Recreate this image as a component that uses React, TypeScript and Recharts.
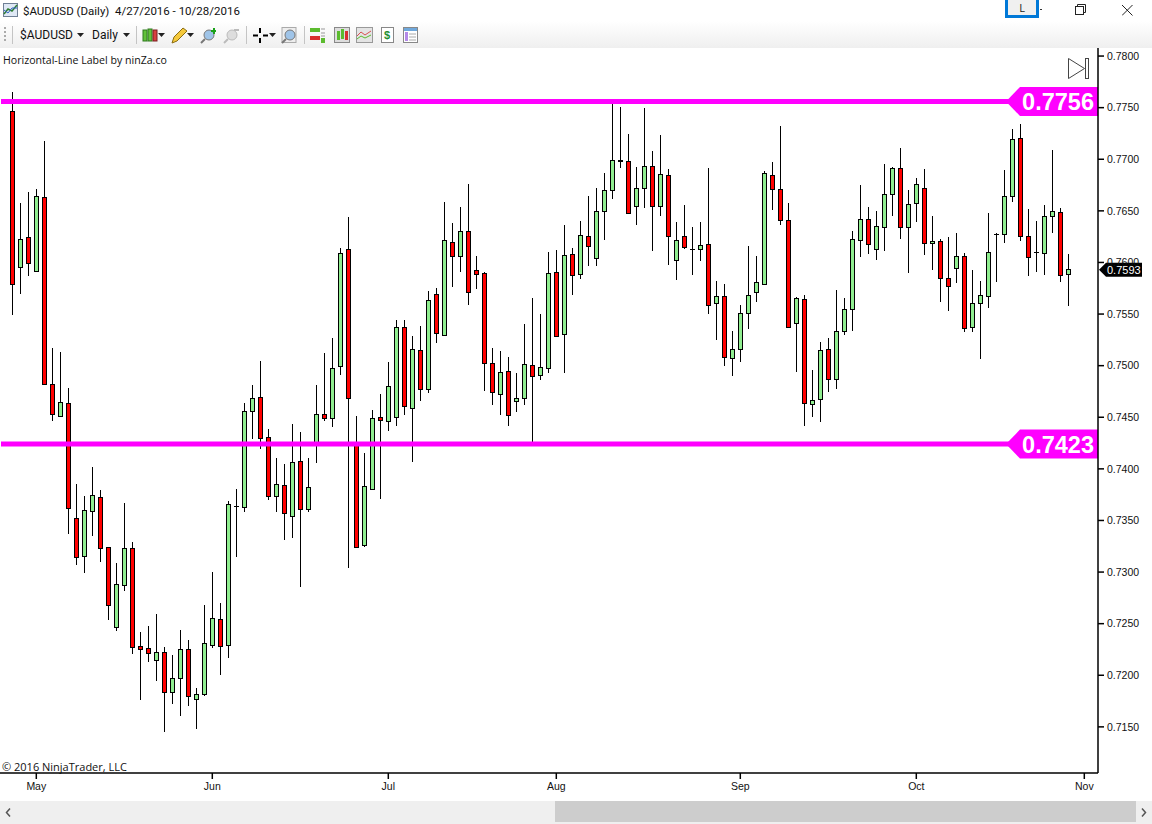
import { ComposedChart, Bar, XAxis, YAxis, ReferenceLine } from 'recharts';

// daily AUDUSD candles, 4/27/2016 - 10/28/2016
const opens = [
  0.77464, 0.75953, 0.76243, 0.75914, 0.76631, 0.74819, 0.74515, 0.74635, 0.7352, 0.73152,
  0.73588, 0.73724, 0.73239, 0.72464, 0.72871, 0.7323, 0.7228, 0.7226, 0.72144, 0.72222,
  0.71834, 0.7197, 0.72251, 0.71766, 0.71815, 0.7229, 0.72542, 0.7229, 0.73637, 0.73627,
  0.74557, 0.74693, 0.74305, 0.73734, 0.7384, 0.73546, 0.74073, 0.73614, 0.7424, 0.74528,
  0.74489, 0.74993, 0.76127, 0.7425, 0.73265, 0.73808, 0.74499, 0.74467, 0.74499, 0.75371,
  0.74586, 0.75148, 0.7477, 0.75691, 0.75294, 0.76195, 0.76059, 0.76301, 0.75924, 0.75895,
  0.75022, 0.74722, 0.74945, 0.74654, 0.74683, 0.75003, 0.74906, 0.74974, 0.75904, 0.75303,
  0.76079, 0.75885, 0.76253, 0.7604, 0.76495, 0.76699, 0.76983, 0.7698, 0.76544, 0.76718,
  0.76931, 0.76544, 0.76844, 0.7602, 0.76253, 0.7613, 0.76127, 0.76175, 0.75604, 0.75672,
  0.75071, 0.75158, 0.75507, 0.7571, 0.75788, 0.76844, 0.76708, 0.76408, 0.7541, 0.75643,
  0.74625, 0.74673, 0.75158, 0.74867, 0.75332, 0.75546, 0.76214, 0.76418, 0.76127, 0.7634,
  0.7666, 0.76912, 0.7634, 0.76573, 0.76718, 0.76185, 0.76205, 0.75846, 0.75943, 0.76059,
  0.75371, 0.75604, 0.75672, 0.76272, 0.76272, 0.76641, 0.77203, 0.76253, 0.76098, 0.76088,
  0.76447, 0.76492, 0.75885,
];
const highs = [
  0.7765, 0.76573, 0.76679, 0.76708, 0.77177, 0.75168, 0.75129, 0.7478, 0.73853, 0.73737,
  0.74015, 0.73795, 0.7324, 0.73084, 0.73666, 0.73288, 0.72416, 0.72474, 0.7259, 0.7227,
  0.72193, 0.72435, 0.72338, 0.71873, 0.72677, 0.72997, 0.72697, 0.73685, 0.73801, 0.74635,
  0.74809, 0.75042, 0.74383, 0.74102, 0.74044, 0.74434, 0.74354, 0.74102, 0.74809, 0.75119,
  0.75265, 0.76137, 0.76437, 0.7451, 0.7415, 0.74567, 0.74722, 0.75032, 0.75439, 0.75439,
  0.75284, 0.7538, 0.7572, 0.75749, 0.76582, 0.76379, 0.76534, 0.76757, 0.76059, 0.75904,
  0.75168, 0.75139, 0.7508, 0.74925, 0.754, 0.75652, 0.75497, 0.76098, 0.76117, 0.7636,
  0.76137, 0.76398, 0.76641, 0.76718, 0.76863, 0.7756, 0.77503, 0.77241, 0.76922, 0.77493,
  0.77077, 0.77232, 0.76902, 0.76389, 0.76553, 0.7634, 0.76389, 0.76912, 0.75817, 0.75788,
  0.75332, 0.75584, 0.76156, 0.76059, 0.76883, 0.7697, 0.77319, 0.76573, 0.75662, 0.75681,
  0.74955, 0.75226, 0.75265, 0.7573, 0.75652, 0.76301, 0.76747, 0.76534, 0.76495, 0.76951,
  0.76922, 0.77106, 0.76699, 0.76815, 0.76902, 0.76447, 0.76224, 0.76243, 0.76282, 0.76088,
  0.75924, 0.75817, 0.76476, 0.76282, 0.76893, 0.7729, 0.77338, 0.76515, 0.76398, 0.76553,
  0.77086, 0.76524, 0.76079,
];
const lows = [
  0.75494, 0.75697, 0.75872, 0.75914, 0.74812, 0.74467, 0.74506, 0.73369, 0.73071, 0.72994,
  0.73352, 0.731, 0.72538, 0.72432, 0.72819, 0.72209, 0.71763, 0.72131, 0.71947, 0.71453,
  0.71725, 0.71608, 0.71705, 0.71482, 0.71802, 0.72267, 0.72005, 0.7217, 0.73149, 0.73585,
  0.74292, 0.74195, 0.73701, 0.73585, 0.73314, 0.73333, 0.72858, 0.73585, 0.7406, 0.74467,
  0.74405, 0.74909, 0.73042, 0.73236, 0.73246, 0.73808, 0.73711, 0.7437, 0.74418, 0.74525,
  0.74069, 0.7466, 0.74738, 0.75223, 0.75294, 0.75765, 0.75911, 0.75591, 0.75746, 0.74758,
  0.74622, 0.74525, 0.74418, 0.74554, 0.74622, 0.7425, 0.74864, 0.74932, 0.7528, 0.74932,
  0.75688, 0.75843, 0.75969, 0.75969, 0.76221, 0.76618, 0.76912, 0.76466, 0.76366, 0.76531,
  0.76114, 0.76453, 0.75978, 0.75833, 0.76133, 0.75882, 0.76017, 0.75504, 0.75252, 0.75,
  0.74903, 0.75039, 0.75358, 0.7562, 0.75788, 0.76508, 0.7636, 0.7537, 0.74942, 0.74418,
  0.74506, 0.74457, 0.74748, 0.74777, 0.753, 0.75339, 0.76056, 0.76085, 0.76027, 0.76114,
  0.76453, 0.76231, 0.75901, 0.76395, 0.76075, 0.7593, 0.7562, 0.75533, 0.75804, 0.75329,
  0.75329, 0.75068, 0.75562, 0.75807, 0.76192, 0.76589, 0.76211, 0.75872, 0.75911, 0.75882,
  0.76289, 0.75814, 0.75581,
];
const closes = [
  0.75788, 0.7623, 0.75991, 0.76641, 0.74825, 0.74528, 0.74644, 0.73617, 0.73142, 0.73598,
  0.73743, 0.7323, 0.72677, 0.72881, 0.7323, 0.7227, 0.72257, 0.72212, 0.72222, 0.71834,
  0.7197, 0.72251, 0.71796, 0.71815, 0.72309, 0.72551, 0.7228, 0.73656, 0.73637, 0.74557,
  0.74683, 0.74296, 0.73734, 0.7385, 0.73569, 0.74063, 0.73614, 0.73821, 0.74528, 0.74489,
  0.74974, 0.76088, 0.74683, 0.73246, 0.7383, 0.7449, 0.74476, 0.748, 0.75371, 0.74606,
  0.75158, 0.7477, 0.75633, 0.75313, 0.76214, 0.76059, 0.76301, 0.7571, 0.75891, 0.75022,
  0.74741, 0.74935, 0.74519, 0.74683, 0.75013, 0.74896, 0.74984, 0.75895, 0.75284, 0.76069,
  0.75875, 0.76263, 0.76156, 0.76495, 0.76699, 0.76989, 0.76993, 0.76476, 0.76718, 0.76931,
  0.76544, 0.76854, 0.76253, 0.76214, 0.76146, 0.7613, 0.76166, 0.75584, 0.75672, 0.7508,
  0.75158, 0.75507, 0.75681, 0.75807, 0.76864, 0.76708, 0.76408, 0.75371, 0.75652, 0.74635,
  0.74664, 0.75148, 0.74867, 0.75332, 0.75546, 0.76224, 0.76418, 0.76175, 0.7635, 0.7666,
  0.76912, 0.7634, 0.76563, 0.76757, 0.76185, 0.76205, 0.75846, 0.75769, 0.76059, 0.75361,
  0.75604, 0.75681, 0.76098, 0.76272, 0.76641, 0.77193, 0.76253, 0.7605, 0.76098, 0.76447,
  0.76495, 0.75875, 0.75933,
];

const monthTicks = [3, 25, 47, 68, 91, 113, 134];
const monthLabels = ['May', 'Jun', 'Jul', 'Aug', 'Sep', 'Oct', 'Nov'];
const priceTicks = [
  0.715, 0.72, 0.725, 0.73, 0.735, 0.74, 0.745, 0.75, 0.755, 0.76, 0.765, 0.77, 0.775, 0.78,
];
const upperLevel = 0.7756;
const lowerLevel = 0.7424;
const upperLabel = '0.7756';
const lowerLabel = '0.7423';
const lastPrice = 0.7593;

const chartData = opens.map((open, i) => ({
  i,
  open,
  high: highs[i],
  low: lows[i],
  close: closes[i],
  range: [lows[i], highs[i]],
}));

const UI_FONT = '"Open Sans", "Noto Sans", sans-serif';
const TITLE_FONT = 'Roboto, "Open Sans", sans-serif';
const CHART_FONT = '"Liberation Sans", Arial, sans-serif';

const Candle = (props: any) => {
  const { x, y, width, height, payload } = props;
  if (height == null) return null;
  const cx = Math.floor(x + width / 2) + 0.5;
  const perUnit = height / (payload.high - payload.low);
  const yOpen = y + (payload.high - payload.open) * perUnit;
  const yClose = y + (payload.high - payload.close) * perUnit;
  // snap to the pixel grid so the outlines stay crisp
  const top = Math.round(Math.min(yOpen, yClose)) + 0.5;
  const bottom = Math.round(Math.max(yOpen, yClose)) + 0.5;
  const up = payload.close > payload.open;
  return (
    <g>
      <line x1={cx} x2={cx} y1={Math.round(y)} y2={Math.round(y + height)} stroke="#000" strokeWidth={1} />
      {bottom > top ? (
        <rect
          x={cx - 2}
          y={top}
          width={4}
          height={bottom - top}
          fill={up ? '#90ee90' : '#ff0000'}
          stroke="#000"
          strokeWidth={1}
        />
      ) : (
        <line x1={cx - 2.5} x2={cx + 2.5} y1={top} y2={top} stroke="#000" strokeWidth={1} />
      )}
    </g>
  );
};

// magenta price flag at the right end of a horizontal line
const LevelTag = ({ viewBox, text }: any) => {
  const right = viewBox.x + viewBox.width;
  const y = viewBox.y;
  const left = right - 78;
  const tip = right - 92;
  return (
    <g>
      <polygon
        points={`${tip},${y} ${left},${y - 14.5} ${right},${y - 14.5} ${right},${y + 14.5} ${left},${y + 14.5}`}
        fill="#ff00ff"
      />
      <text
        x={right - 4}
        y={y + 8.5}
        textAnchor="end"
        fill="#fff"
        fontFamily={CHART_FONT}
        fontWeight="bold"
        fontSize={23.5}
      >
        {text}
      </text>
    </g>
  );
};

const LastPriceTag = ({ viewBox, text }: any) => {
  const right = viewBox.x + viewBox.width;
  const y = viewBox.y;
  return (
    <g>
      <polygon
        points={`${right + 1},${y} ${right + 8},${y - 7} ${right + 44},${y - 7} ${right + 44},${y + 7} ${right + 8},${y + 7}`}
        fill="#000"
      />
      <text x={right + 9} y={y + 4} fill="#fff" fontFamily={CHART_FONT} fontSize={11}>
        {text}
      </text>
    </g>
  );
};

const Caret = ({ x }: { x: number }) => (
  <svg style={{ position: 'absolute', left: x, top: 33 }} width={7} height={4}>
    <polygon points="0,0 7,0 3.5,4" fill="#222" />
  </svg>
);

const Sep = ({ x }: { x: number }) => (
  <div style={{ position: 'absolute', left: x, top: 26, width: 1, height: 18, background: '#c4c4c4' }} />
);

const Icon = ({ x, w = 16, children }: any) => (
  <svg style={{ position: 'absolute', left: x, top: 27 }} width={w} height={17}>
    {children}
  </svg>
);

const Lens = ({ fill = '#9fc4e8', stroke = '#777' }: any) => (
  <g>
    <circle cx={9} cy={8} r={5} fill={fill} stroke={stroke} />
    <line x1={5} y1={12} x2={1} y2={16} stroke={stroke} strokeWidth={2} />
  </g>
);

const Chrome = () => (
  <div style={{ position: 'absolute', left: 0, top: 0, width: 1152, height: 824, fontFamily: UI_FONT, pointerEvents: 'none' }}>
    <svg style={{ position: 'absolute', left: 3, top: 3 }} width={15} height={14}>
      <rect x={0.5} y={0.5} width={14} height={13} fill="#dfe8f5" stroke="#6f7f95" />
      <polyline points="1,11 5,6 9,8 14,2" fill="none" stroke="#2f7d32" strokeWidth={1.5} />
      <polyline points="1,7 5,10 9,5 14,5" fill="none" stroke="#3465c5" />
    </svg>
    <div style={{ position: 'absolute', left: 23, top: 4, fontFamily: TITLE_FONT, fontSize: 11.5, color: '#111', whiteSpace: 'pre' }}>
      {'$AUDUSD (Daily)  4/27/2016 - 10/28/2016'}
    </div>
    <div style={{ position: 'absolute', left: 1005, top: 0, width: 28, height: 15, border: '3px solid #0078d7', borderTop: 'none', background: '#f0f0f0', fontSize: 11, textAlign: 'center', color: '#222', lineHeight: '16px' }}>
      L
    </div>
    <div style={{ position: 'absolute', left: 1040, top: 9, width: 2, height: 1, background: '#333' }} />
    <svg style={{ position: 'absolute', left: 1075, top: 4 }} width={12} height={12}>
      <rect x={0.5} y={2.5} width={8} height={8} fill="#fff" stroke="#222" />
      <polyline points="2.5,2.5 2.5,0.5 10.5,0.5 10.5,8.5 8.5,8.5" fill="none" stroke="#222" />
    </svg>
    <svg style={{ position: 'absolute', left: 1122, top: 5 }} width={11} height={11}>
      <line x1={0} y1={0} x2={10.5} y2={10.5} stroke="#222" />
      <line x1={10.5} y1={0} x2={0} y2={10.5} stroke="#222" />
    </svg>

    <div style={{ position: 'absolute', left: 0, top: 21, width: 1152, height: 27, background: 'linear-gradient(#ffffff, #efefef)' }}>
      <div style={{ position: 'absolute', left: 4, top: 6, width: 2, height: 14, borderLeft: '2px dotted #aaa' }} />
    </div>
    <Sep x={12} />
    <div style={{ position: 'absolute', left: 20, top: 28, fontFamily: TITLE_FONT, fontSize: 12, color: '#111' }}>$AUDUSD</div>
    <Caret x={77} />
    <div style={{ position: 'absolute', left: 92, top: 28, fontFamily: TITLE_FONT, fontSize: 12, color: '#111' }}>Daily</div>
    <Caret x={123} />
    <Sep x={136} />
    <Icon x={142}>
      <rect x={1} y={3} width={4} height={11} fill="#62c23a" stroke="#2f7a1e" />
      <rect x={6} y={2} width={4} height={12} fill="#62c23a" stroke="#2f7a1e" />
      <rect x={11} y={3} width={4} height={11} fill="#d84040" stroke="#7a1e1e" />
    </Icon>
    <Caret x={158} />
    <Icon x={171}>
      <polygon points="1,16 3,10 12,1 16,4 6,14" fill="#f5c93c" stroke="#8a6d12" />
    </Icon>
    <Caret x={187} />
    <Icon x={200}>
      <Lens />
      <path d="M13 1h2v2h2v2h-2v2h-2v-2h-2v-2h2z" fill="#1aa21a" />
    </Icon>
    <Icon x={223}>
      <Lens fill="#dddddd" stroke="#bbb" />
      <rect x={11} y={2} width={5} height={2} fill="#bbb" />
    </Icon>
    <Sep x={246} />
    <Icon x={252}>
      <path d="M8 1v5M8 11v5M1 8.500h5M11 8.500h5" stroke="#000" strokeWidth={2} />
    </Icon>
    <Caret x={269} />
    <Icon x={281}>
      <rect x={1} y={0.5} width={14} height={15} fill="#eee" stroke="#aaa" />
      <Lens />
    </Icon>
    <Sep x={304} />
    <Icon x={310}>
      <rect x={0} y={1} width={10} height={4} fill="#5bbb2e" />
      <rect x={0} y={9} width={10} height={4} fill="#d82f2f" />
      <rect x={11} y={11} width={4} height={5} fill="#5bbb2e" />
      <path d="M11 2h4M11 6h4M11 9h4" stroke="#999" />
    </Icon>
    <Icon x={334}>
      <rect x={0.5} y={0.5} width={15} height={15} fill="#ddd" stroke="#888" />
      <rect x={3} y={4} width={3} height={9} fill="#5bbb2e" />
      <rect x={7} y={2} width={3} height={10} fill="#5bbb2e" />
      <rect x={11} y={4} width={3} height={9} fill="#d82f2f" />
    </Icon>
    <Icon x={356} w={17}>
      <rect x={0.5} y={0.5} width={16} height={15} fill="#e4e4e4" stroke="#999" />
      <polyline points="1,9 5,5 9,8 15,4" fill="none" stroke="#d85050" />
      <polyline points="1,12 5,9 9,11 15,8" fill="none" stroke="#5bbb2e" />
    </Icon>
    <Icon x={381} w={13}>
      <rect x={0.5} y={0.5} width={12} height={15} fill="#fff" stroke="#888" />
      <text x={3} y={12} fontSize={11} fontWeight="bold" fill="#1f8f2f" fontFamily={CHART_FONT}>$</text>
    </Icon>
    <Icon x={403} w={15}>
      <rect x={0.5} y={0.5} width={14} height={15} fill="#fff" stroke="#888" />
      <rect x={1} y={1} width={13} height={3} fill="#6fa8dc" />
      <rect x={2} y={5} width={3} height={9} fill="#b48ae8" />
      <path d="M6 7h7M6 10h7M6 13h7" stroke="#aaa" />
    </Icon>

    <div style={{ position: 'absolute', left: 3, top: 53, fontSize: 10.6, color: '#111' }}>Horizontal-Line Label by ninZa.co</div>
    <div style={{ position: 'absolute', left: 2, top: 759, fontSize: 11, color: '#111' }}>© 2016 NinjaTrader, LLC</div>

    <svg style={{ position: 'absolute', left: 1067, top: 57 }} width={24} height={24}>
      <polygon points="1.500,1.500 1.500,21.500 17.500,11.500" fill="#fff" stroke="#444" />
      <rect x={18.500} y={1.500} width={3} height={20} fill="#fff" stroke="#444" />
    </svg>

    {/* the horizontal lines start one pixel in from the left edge */}
    <div style={{ position: 'absolute', left: 0, top: 90, width: 1, height: 400, background: '#fff' }} />

    <div style={{ position: 'absolute', left: 0, top: 801, width: 1152, height: 23, background: '#efefef' }} />
    <div style={{ position: 'absolute', left: 555, top: 801, width: 581, height: 21, background: '#cdcdcd' }} />
    <svg style={{ position: 'absolute', left: 5, top: 808 }} width={7} height={9}>
      <polyline points="5,0.500 1.500,4.500 5,8.500" fill="none" stroke="#555" strokeWidth={1.5} />
    </svg>
    <svg style={{ position: 'absolute', left: 1140, top: 808 }} width={7} height={9}>
      <polyline points="2,0.500 5.500,4.500 2,8.500" fill="none" stroke="#555" strokeWidth={1.5} />
    </svg>
  </div>
);

export default function App() {
  return (
    <div style={{ position: 'fixed', left: 0, top: 0, width: 1152, height: 824, background: '#fff', overflow: 'hidden' }}>
      <ComposedChart
        width={1152}
        height={824}
        data={chartData}
        margin={{ top: 48, right: 0, bottom: 23, left: 0 }}
      >
        <XAxis
          dataKey="i"
          type="number"
          domain={[-1.5375, 135.7125]}
          ticks={monthTicks}
          tickFormatter={(v: number) => monthLabels[monthTicks.indexOf(v)]}
          interval={0}
          height={28}
          stroke="#000"
          strokeWidth={1.5}
          tickSize={6}
          tickMargin={4}
          tick={{ fontSize: 10.5, fill: '#111', fontFamily: CHART_FONT }}
        />
        <YAxis
          orientation="right"
          type="number"
          domain={[0.71053, 0.78078]}
          ticks={priceTicks}
          interval={0}
          width={54}
          stroke="#000"
          strokeWidth={1.5}
          tickSize={6}
          tickMargin={3}
          tickFormatter={(v: number) => v.toFixed(4)}
          tick={{ fontSize: 10.5, fill: '#111', fontFamily: CHART_FONT }}
        />
        <Bar dataKey="range" barSize={6} shape={Candle} isAnimationActive={false} />
        <ReferenceLine
          y={upperLevel}
          stroke="#ff00ff"
          strokeWidth={5}
          label={(p: any) => <LevelTag viewBox={p.viewBox} text={upperLabel} />}
        />
        <ReferenceLine
          y={lowerLevel}
          stroke="#ff00ff"
          strokeWidth={5}
          label={(p: any) => <LevelTag viewBox={p.viewBox} text={lowerLabel} />}
        />
        <ReferenceLine
          y={lastPrice}
          stroke="none"
          label={(p: any) => <LastPriceTag viewBox={p.viewBox} text={lastPrice.toFixed(4)} />}
        />
      </ComposedChart>
      <Chrome />
    </div>
  );
}
